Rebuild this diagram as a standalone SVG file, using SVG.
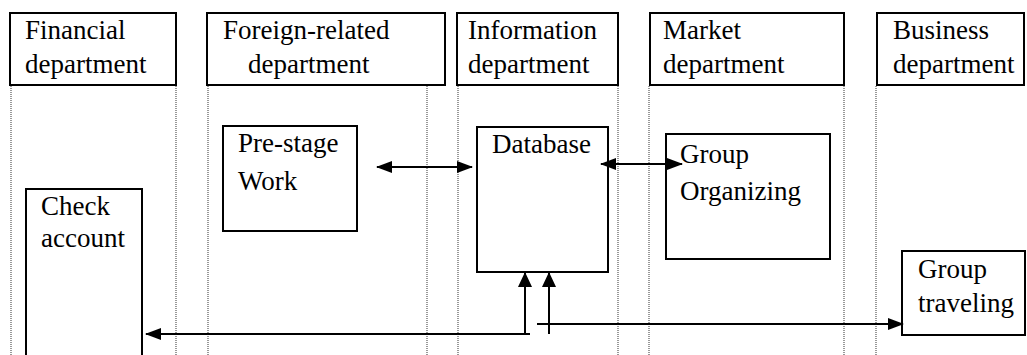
<svg xmlns="http://www.w3.org/2000/svg" width="1027" height="355" viewBox="0 0 1027 355">
<style>
.box{fill:#fff;stroke:#000;stroke-width:2}
.lane{stroke:#555;stroke-width:1.2;stroke-dasharray:1 1;fill:none}
.t{font-family:"Liberation Serif","Times New Roman",serif;font-size:27px;fill:#000}
.c{stroke:#000;stroke-width:2;fill:none}
</style>
<defs>
<marker id="ah" viewBox="0 0 16 12" refX="15" refY="6" markerWidth="16" markerHeight="12" markerUnits="userSpaceOnUse" orient="auto-start-reverse">
<path d="M0,0 L16,6 L0,12 Z" fill="#000"/>
</marker>
<marker id="av" viewBox="0 0 15 14" refX="14" refY="7" markerWidth="15" markerHeight="14" markerUnits="userSpaceOnUse" orient="auto">
<path d="M0,0 L15,7 L0,14 Z" fill="#000"/>
</marker>
</defs>
<rect width="1027" height="355" fill="#fff"/>
<g id="lanes">
<line class="lane" x1="11" y1="86" x2="11" y2="355"/>
<line class="lane" x1="176" y1="86" x2="176" y2="355"/>
<line class="lane" x1="208" y1="86" x2="208" y2="355"/>
<line class="lane" x1="427" y1="86" x2="427" y2="355"/>
<line class="lane" x1="458" y1="86" x2="458" y2="355"/>
<line class="lane" x1="618" y1="86" x2="618" y2="355"/>
<line class="lane" x1="649" y1="86" x2="649" y2="355"/>
<line class="lane" x1="844" y1="86" x2="844" y2="355"/>
<line class="lane" x1="876" y1="86" x2="876" y2="355"/>
</g>
<g id="h-financial"><rect class="box" x="10" y="13" width="166" height="72"/><text class="t" x="25" y="39">Financial</text><text class="t" x="25" y="73">department</text></g>
<g id="h-foreign"><rect class="box" x="207" y="13" width="238" height="72"/><text class="t" x="223" y="39">Foreign-related</text><text class="t" x="248" y="73">department</text></g>
<g id="h-information"><rect class="box" x="457" y="13" width="161" height="72"/><text class="t" x="468" y="39">Information</text><text class="t" x="468" y="73">department</text></g>
<g id="h-market"><rect class="box" x="650" y="13" width="194" height="72"/><text class="t" x="663" y="39">Market</text><text class="t" x="663" y="73">department</text></g>
<g id="h-business"><rect class="box" x="877" y="13" width="147" height="72"/><text class="t" x="893" y="39">Business</text><text class="t" x="893" y="73">department</text></g>
<g id="n-prestage"><rect class="box" x="223" y="126" width="134" height="105"/><text class="t" x="238" y="152">Pre-stage</text><text class="t" x="238" y="190">Work</text></g>
<g id="n-check"><path class="box" d="M26,356 V189 H142 V356"/><text class="t" x="41" y="215">Check</text><text class="t" x="41" y="247">account</text></g>
<g id="n-database"><rect class="box" x="477" y="127" width="131" height="145"/><text class="t" x="492" y="153">Database</text></g>
<g id="n-grouporg"><rect class="box" x="666" y="134" width="164" height="125"/><text class="t" x="680" y="163">Group</text><text class="t" x="680" y="200">Organizing</text></g>
<g id="n-grouptravel"><rect class="box" x="902" y="251" width="123" height="84"/><text class="t" x="918" y="278">Group</text><text class="t" x="918" y="312">traveling</text></g>
<g id="connectors">
<line class="c" x1="377" y1="167" x2="472" y2="167" marker-start="url(#ah)" marker-end="url(#ah)"/>
<line class="c" x1="601" y1="164" x2="682" y2="164" marker-start="url(#ah)" marker-end="url(#ah)"/>
<line class="c" x1="530" y1="334" x2="146" y2="334" marker-end="url(#ah)"/>
<line class="c" x1="525" y1="334" x2="525" y2="273" marker-end="url(#av)"/>
<line class="c" x1="549" y1="334" x2="549" y2="273" marker-end="url(#av)"/>
<line class="c" x1="537" y1="324" x2="903" y2="324" marker-end="url(#ah)"/>
</g>
</svg>
